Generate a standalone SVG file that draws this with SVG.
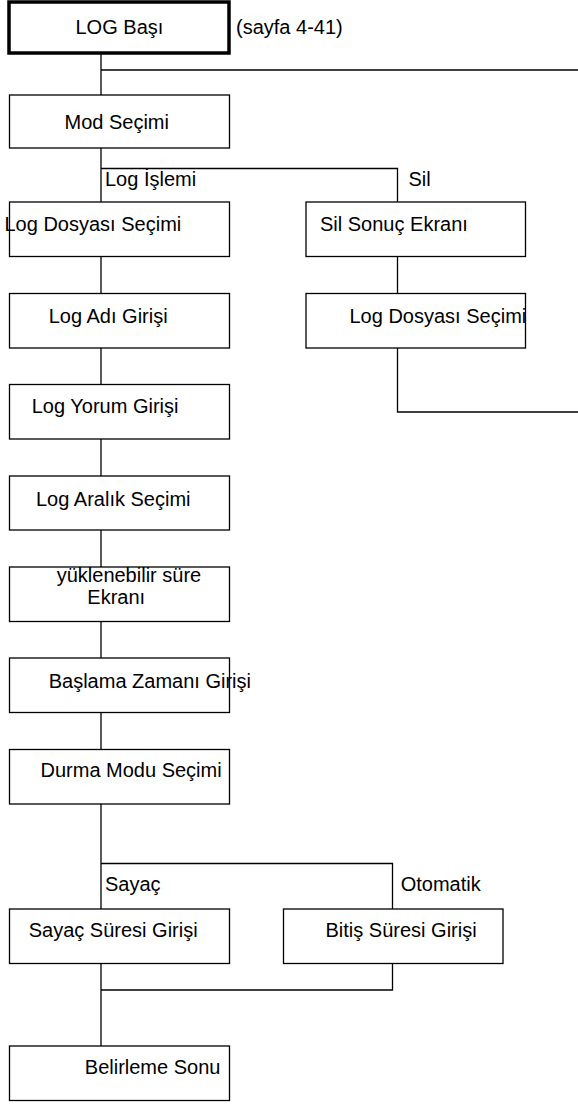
<svg xmlns="http://www.w3.org/2000/svg" width="578" height="1104" viewBox="0 0 578 1104">
<style>
.b{fill:#fff;stroke:#000;stroke-width:1.3}
.t{font-family:"Liberation Sans",Arial,sans-serif;font-size:20px;fill:#000}
.c line,.c polyline{stroke:#000;stroke-width:1.3;fill:none}
</style>
<rect width="578" height="1104" fill="#fff"/>
<g class="c" id="connectors">
<line x1="101" y1="54" x2="101" y2="95"/>
<line x1="101" y1="70" x2="578" y2="70"/>
<line x1="101" y1="148" x2="101" y2="202"/>
<polyline points="101,168.5 397.5,168.5 397.5,202"/>
<line x1="101" y1="256.5" x2="101" y2="293.5"/>
<line x1="101" y1="348" x2="101" y2="384.5"/>
<line x1="101" y1="439" x2="101" y2="476"/>
<line x1="101" y1="530" x2="101" y2="567"/>
<line x1="101" y1="621.5" x2="101" y2="658"/>
<line x1="101" y1="712.5" x2="101" y2="749.5"/>
<line x1="397.5" y1="256.5" x2="397.5" y2="293.5"/>
<polyline points="397.5,348 397.5,412 578,412"/>
<line x1="101" y1="804" x2="101" y2="909"/>
<polyline points="101,863.5 392.5,863.5 392.5,909"/>
<line x1="101" y1="963.5" x2="101" y2="1046"/>
<polyline points="101,990 392.5,990 392.5,963.5"/>
</g>
<g id="n-logbasi"><rect x="9" y="2" width="220" height="51" fill="#fff" stroke="#000" stroke-width="3.5"/><text class="t" x="75.5" y="34">LOG Başı</text></g>
<g id="n-sayfa"><text class="t" x="236" y="34">(sayfa 4-41)</text></g>
<g id="n-mod"><rect class="b" x="9.5" y="95" width="220" height="53"/><text class="t" x="64.5" y="129">Mod Seçimi</text></g>
<g id="l-logislemi"><text class="t" x="105" y="186">Log İşlemi</text></g>
<g id="l-sil"><text class="t" x="408.5" y="186">Sil</text></g>
<g id="n-logdosya1"><rect class="b" x="9.5" y="202" width="220" height="54.5"/><text class="t" x="4.5" y="231">Log Dosyası Seçimi</text></g>
<g id="n-silsonuc"><rect class="b" x="306" y="202" width="219.5" height="54.5"/><text class="t" x="320" y="231">Sil Sonuç Ekranı</text></g>
<g id="n-logadi"><rect class="b" x="9.5" y="293.5" width="220" height="54.5"/><text class="t" x="48.7" y="323">Log Adı Girişi</text></g>
<g id="n-logdosya2"><rect class="b" x="306" y="293.5" width="219.5" height="54.5"/><text class="t" x="349.5" y="323">Log Dosyası Seçimi</text></g>
<g id="n-logyorum"><rect class="b" x="9.5" y="384.5" width="220" height="54.5"/><text class="t" x="31.7" y="413">Log Yorum Girişi</text></g>
<g id="n-logaralik"><rect class="b" x="9.5" y="476" width="220" height="54"/><text class="t" x="36" y="505.7">Log Aralık Seçimi</text></g>
<g id="n-yuklenebilir"><rect class="b" x="9.5" y="567" width="220" height="54.5"/><text class="t" x="56.7" y="582.3">yüklenebilir süre</text><text class="t" x="87.3" y="604.3">Ekranı</text></g>
<g id="n-baslama"><rect class="b" x="9.5" y="658" width="220" height="54.5"/><text class="t" x="48.7" y="687.7">Başlama Zamanı Girişi</text></g>
<g id="n-durma"><rect class="b" x="9.5" y="749.5" width="220" height="54.5"/><text class="t" x="40.5" y="777.3">Durma Modu Seçimi</text></g>
<g id="l-sayac"><text class="t" x="105" y="891">Sayaç</text></g>
<g id="l-otomatik"><text class="t" x="400.7" y="891">Otomatik</text></g>
<g id="n-sayacsure"><rect class="b" x="9.5" y="909" width="220" height="54.5"/><text class="t" x="28.7" y="936.7">Sayaç Süresi Girişi</text></g>
<g id="n-bitis"><rect class="b" x="283.5" y="909" width="219.5" height="54.5"/><text class="t" x="325.5" y="936.7">Bitiş Süresi Girişi</text></g>
<g id="n-belirleme"><rect class="b" x="9.5" y="1046" width="220" height="54.5"/><text class="t" x="84.8" y="1074.3">Belirleme Sonu</text></g>
</svg>
